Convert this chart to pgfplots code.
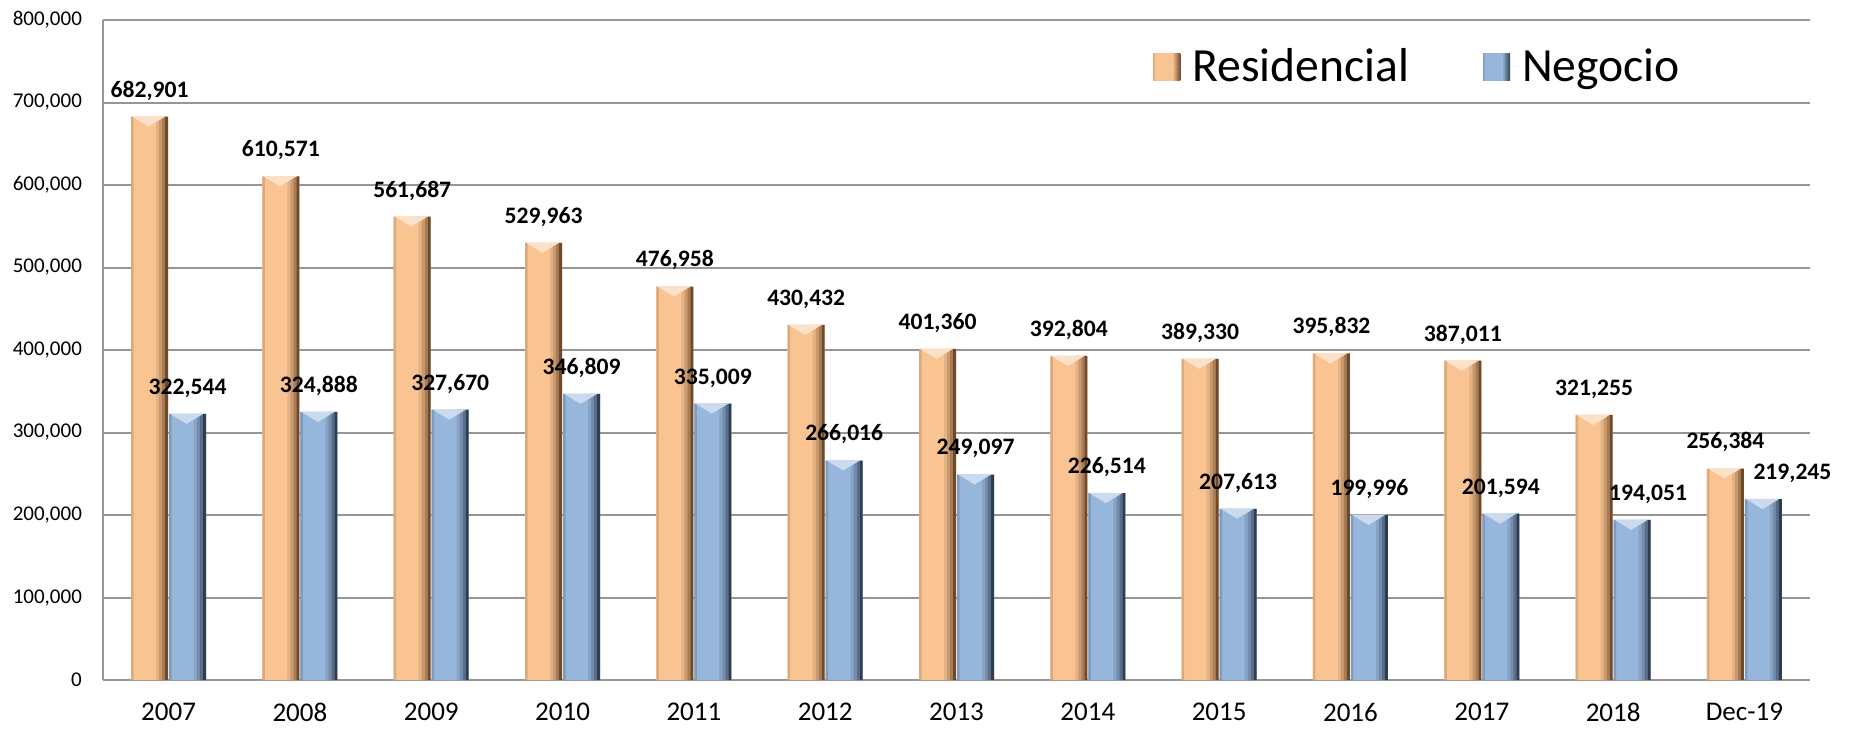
\documentclass[border=0pt]{standalone}
\usepackage{pgfplots}
\pgfplotsset{compat=1.18}
\usepackage{fontspec}
\setmainfont{Carlito}
\definecolor{resbase}{HTML}{FAC492}
\definecolor{resdark}{HTML}{6E4A2C}
\definecolor{negbase}{HTML}{97B6DB}
\definecolor{negdark}{HTML}{2F3D50}
\definecolor{gridgray}{HTML}{969696}
\colorlet{reshi}{resbase!50!white}
\colorlet{neghi}{negbase!50!white}
\pgfdeclarehorizontalshading{resshade}{100bp}{color(0bp)=(resbase!80!resdark); color(25bp)=(resbase!80!resdark); color(28bp)=(resbase); color(60bp)=(resbase); color(75bp)=(resdark); color(100bp)=(resdark)}
\pgfdeclarehorizontalshading{negshade}{100bp}{color(0bp)=(negbase!80!negdark); color(25bp)=(negbase!80!negdark); color(28bp)=(negbase); color(60bp)=(negbase); color(75bp)=(negdark); color(100bp)=(negdark)}
\pgfplotstableread{
x y dx
0 682901 0
1 610571 0
2 561687 0
3 529963 0
4 476958 0
5 430432 0
6 401360 0
7 392804 0
8 389330 0
9 395832 0
10 387011 0
11 321255 0
12 256384 0
}\resdata
\pgfplotstableread{
x y dx
0 322544 0
1 324888 0
2 327670 0
3 346809 0
4 335009 0
5 266016 0
6 249097 0
7 226514 0
8 207613 0
9 199996 0
10 201594 0
11 194051 8
12 219245 14.5
}\negdata
\begin{document}
\begin{tikzpicture}
\begin{axis}[
  scale only axis, width=853.5pt, height=330pt,
  xmin=-0.5, xmax=12.5, ymin=0, ymax=800000,
  xtick={0,...,12},
  xticklabels={2007,2008,2009,2010,2011,2012,2013,2014,2015,2016,2017,2018,Dec-19},
  ytick={0,100000,...,800000},
  scaled y ticks=false,
  /pgf/number format/assume math mode=true,
  /pgf/number format/fixed,
  /pgf/number format/precision=0,
  /pgf/number format/1000 sep={,},
  yticklabel style={font=\fontsize{10.5}{12}\selectfont, xshift=-7pt},
  xticklabel style={font=\fontsize{13.5}{16}\selectfont, yshift=-8pt},
  ymajorgrids, major grid style={gridgray, line width=1pt},
  axis x line*=bottom, axis y line*=left,
  axis line style={gridgray, line width=1pt, -},
  major tick length=0pt, tick style={draw=none},
  legend style={draw=none, fill=none, at={(0.6151,0.929)}, anchor=west, inner sep=0pt,
     font=\fontsize{23.8}{28}\selectfont, legend columns=2,
     /tikz/every even column/.append style={column sep=35pt}},
  legend cell align=left,
  clip=false,
]
% Residencial
\addplot[ybar, bar width=18.5pt, bar shift=-9.5pt, draw=none, fill=resbase,
  legend image code/.code={\shade[shading=resshade] (0pt,-6.75pt) rectangle (13.5pt,6.75pt); \path (0pt,0pt) -- (17.5pt,0pt);}]
  table[x=x,y=y] {\resdata};
\addlegendentry{Residencial}
% Negocio
\addplot[ybar, bar width=18.5pt, bar shift=9.5pt, draw=none, fill=negbase,
  legend image code/.code={\shade[shading=negshade] (0pt,-6.75pt) rectangle (13.5pt,6.75pt); \path (0pt,0pt) -- (17.5pt,0pt);}]
  table[x=x,y=y] {\negdata};
\addlegendentry{Negocio}
% bevel strips, Residencial
\addplot[forget plot, ybar, bar width=1.25pt, bar shift=-18.125pt, draw=none, fill=resbase!78!resdark] table[x=x,y=y] {\resdata};
\addplot[forget plot, ybar, bar width=1.5pt, bar shift=-5.5pt, draw=none, fill=resbase!85!resdark] table[x=x,y=y] {\resdata};
\addplot[forget plot, ybar, bar width=1.5pt, bar shift=-4.0pt, draw=none, fill=resbase!65!resdark] table[x=x,y=y] {\resdata};
\addplot[forget plot, ybar, bar width=1.5pt, bar shift=-2.5pt, draw=none, fill=resbase!40!resdark] table[x=x,y=y] {\resdata};
\addplot[forget plot, ybar, bar width=1.5pt, bar shift=-1.0pt, draw=none, fill=resdark] table[x=x,y=y] {\resdata};
% bevel strips, Negocio
\addplot[forget plot, ybar, bar width=1.25pt, bar shift=0.875pt, draw=none, fill=negbase!78!negdark] table[x=x,y=y] {\negdata};
\addplot[forget plot, ybar, bar width=1.5pt, bar shift=13.5pt, draw=none, fill=negbase!85!negdark] table[x=x,y=y] {\negdata};
\addplot[forget plot, ybar, bar width=1.5pt, bar shift=15.0pt, draw=none, fill=negbase!65!negdark] table[x=x,y=y] {\negdata};
\addplot[forget plot, ybar, bar width=1.5pt, bar shift=16.5pt, draw=none, fill=negbase!40!negdark] table[x=x,y=y] {\negdata};
\addplot[forget plot, ybar, bar width=1.5pt, bar shift=18.0pt, draw=none, fill=negdark] table[x=x,y=y] {\negdata};
% top bevel highlights
\addplot[forget plot, only marks, color=reshi, mark=triangle*, mark size=9.0pt,
  mark options={xshift=-10.0pt, yshift=-1.6pt, yscale=0.35, rotate=180, draw=reshi, fill=reshi}]
  table[x=x,y=y] {\resdata};
\addplot[forget plot, only marks, color=neghi, mark=triangle*, mark size=9.0pt,
  mark options={xshift=9.0pt, yshift=-1.6pt, yscale=0.35, rotate=180, draw=neghi, fill=neghi}]
  table[x=x,y=y] {\negdata};
% value labels
\addplot[forget plot, only marks, mark=none, nodes near coords,
  visualization depends on={\thisrow{dx} \as \dx},
  every node near coord/.append style={font=\fontsize{11.8}{13}\selectfont\bfseries, text=black, inner sep=0pt, anchor=south, yshift=8pt, xshift=-9.5pt}]
  table[x=x,y=y] {\resdata};
\addplot[forget plot, only marks, mark=none, nodes near coords,
  visualization depends on={\thisrow{dx} \as \dx},
  every node near coord/.append style={font=\fontsize{11.8}{13}\selectfont\bfseries, text=black, inner sep=0pt, anchor=south, yshift=8pt, xshift=9.5pt+\dx pt}]
  table[x=x,y=y] {\negdata};
\path (axis description cs:-0.0603,-0.0712) rectangle (axis description cs:1.0228,1.0303);
\end{axis}
\end{tikzpicture}
\end{document}
